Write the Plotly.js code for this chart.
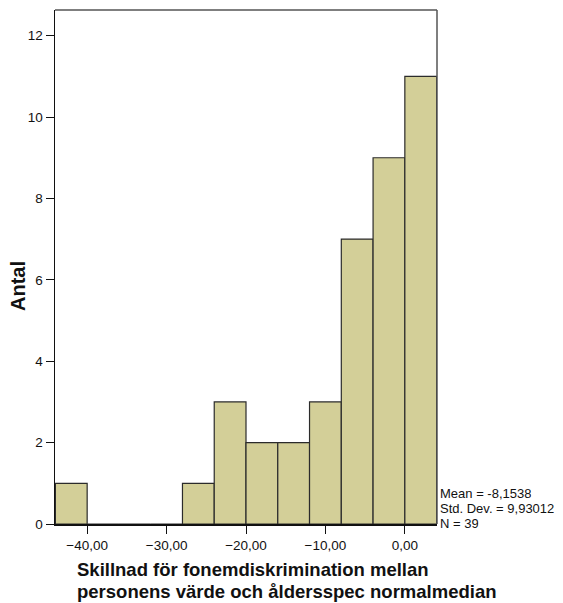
<!DOCTYPE html>
<html>
<head>
<meta charset="utf-8">
<script src="https://cdn.plot.ly/plotly-3.0.1.min.js"></script>
<style>html,body{margin:0;padding:0;background:#fff;}#chart{width:563px;height:603px;}</style>
</head>
<body>
<div id="chart"></div>
<script>
// Histogram bins (lower edges, width 4) and counts
var binStarts = [-44, -40, -36, -32, -28, -24, -20, -16, -12, -8, -4, 0];
var binWidth = 4;
var counts = [1, 0, 0, 0, 1, 3, 2, 2, 3, 7, 9, 11];
var xTickVals = [-40, -30, -20, -10, 0];
var yTickVals = [0, 2, 4, 6, 8, 10, 12];
var statsLines = ["Mean = -8,1538", "Std. Dev. = 9,93012", "N = 39"];
var xTitleLines = ["Skillnad för fonemdiskrimination mellan", "personens värde och åldersspec normalmedian"];
var yTitle = "Antal";

var centers = binStarts.map(function (s) { return s + binWidth / 2; });

var trace = {
  type: 'bar',
  x: centers,
  y: counts,
  width: binStarts.map(function () { return binWidth; }),
  marker: { color: '#d3cf98', line: { color: '#2b2b2b', width: 1.2 } },
  hoverinfo: 'skip'
};

var font = "'Liberation Sans', Arial, sans-serif";
var plotTop = 10, plotBottom = 524, plotLeft = 55, plotRight = 437;
function py(p) { return (plotBottom - p) / (plotBottom - plotTop); }
function px(p) { return (p - plotLeft) / (plotRight - plotLeft); }

var annotations = [
  {
    text: '<b>' + yTitle + '</b>', xref: 'paper', yref: 'paper', x: px(18), y: py(286),
    xanchor: 'center', yanchor: 'middle', textangle: -90, showarrow: false,
    font: { family: font, size: 20, color: '#111' }
  }
];
var statY = [493, 508, 523];
statsLines.forEach(function (s, i) {
  annotations.push({
    text: s, xref: 'paper', yref: 'paper', x: px(439), y: py(statY[i]),
    xanchor: 'left', yanchor: 'middle', align: 'left', showarrow: false,
    borderpad: 0, height: 14,
    font: { family: font, size: 13, color: '#111' }
  });
});
var titleY = [569, 591];
xTitleLines.forEach(function (s, i) {
  annotations.push({
    text: '<b>' + s + '</b>', xref: 'paper', yref: 'paper', x: px(75), y: py(titleY[i]),
    xanchor: 'left', yanchor: 'middle', align: 'left', showarrow: false,
    font: { family: font, size: 18.5, color: '#111' }
  });
});

var layout = {
  width: 563,
  height: 603,
  margin: { l: 55, r: 126, t: 10, b: 79, pad: 0 },
  paper_bgcolor: '#ffffff',
  plot_bgcolor: '#ffffff',
  separators: ',.',
  showlegend: false,
  bargap: 0,
  font: { family: font, size: 13, color: '#111' },
  xaxis: {
    range: [-44.05, 4.05],
    tickvals: xTickVals,
    tickformat: '.2f',
    ticks: 'outside',
    ticklen: 8,
    tickwidth: 1,
    tickcolor: '#111',
    showline: true,
    linecolor: '#111',
    linewidth: 1.5,
    showgrid: false,
    zeroline: false,
    tickfont: { family: font, size: 13.5, color: '#111' },
    fixedrange: true
  },
  yaxis: {
    range: [0, 12.63],
    tickvals: yTickVals,
    ticks: 'outside',
    ticklen: 8,
    tickwidth: 1,
    tickcolor: '#111',
    showline: true,
    linecolor: '#111',
    linewidth: 1.5,
    showgrid: false,
    zeroline: false,
    tickfont: { family: font, size: 13.5, color: '#111' },
    fixedrange: true
  },
  shapes: [
    { type: 'line', xref: 'paper', yref: 'paper', x0: 0, x1: 1, y0: 1, y1: 1, line: { color: '#555', width: 1.5 } },
    { type: 'line', xref: 'paper', yref: 'paper', x0: 1, x1: 1, y0: 0, y1: 1, line: { color: '#555', width: 1.5 } }
  ],
  annotations: annotations
};

Plotly.newPlot('chart', [trace], layout, { displayModeBar: false, staticPlot: true });
</script>
</body>
</html>
